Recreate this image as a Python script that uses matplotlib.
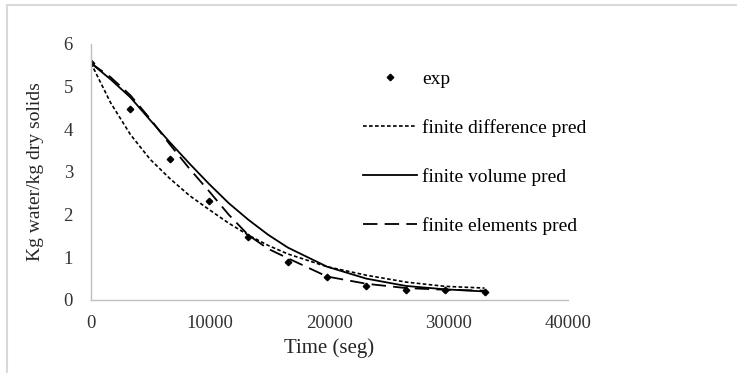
import numpy as np
import matplotlib
matplotlib.use("Agg")
import matplotlib.pyplot as plt
from matplotlib.patches import Rectangle

# data
t_exp = [0, 3300, 6600, 9900, 13200, 16500, 19800, 23100, 26400, 29700, 33000]
x_exp = [5.55, 4.47, 3.30, 2.32, 1.47, 0.89, 0.54, 0.33, 0.24, 0.23, 0.19]

t_pred = [0, 1650, 3300, 4950, 6600, 8250, 9900, 11550, 13200, 14850, 16500,
          19800, 23100, 26400, 29700, 33000]
x_fd = [5.55, 4.62, 3.88, 3.30, 2.85, 2.45, 2.12, 1.80, 1.52, 1.28, 1.08,
        0.78, 0.58, 0.42, 0.32, 0.28]
x_fv = [5.55, 5.17, 4.75, 4.22, 3.70, 3.20, 2.72, 2.27, 1.88, 1.53, 1.23,
        0.78, 0.50, 0.33, 0.25, 0.20]
x_fe = [5.55, 5.22, 4.80, 4.25, 3.65, 3.08, 2.55, 2.00, 1.52, 1.20, 0.98,
        0.55, 0.38, 0.28, 0.24, 0.22]

x_ticks = [0, 10000, 20000, 30000, 40000]
y_ticks = [0, 1, 2, 3, 4, 5, 6]

plt.rcParams["font.family"] = ["Liberation Serif", "DejaVu Serif"]

fig = plt.figure(figsize=(7.37, 3.73), dpi=100)
ax = fig.add_axes([91 / 737, 73 / 373, 477 / 737, 256 / 373])

# light gray frame around the chart area
fig.patches.append(Rectangle((7 / 737, -0.1), 1.0, (368 / 373) + 0.1,
                             transform=fig.transFigure, fill=False,
                             edgecolor="#d9d9d9", linewidth=1.5))

ax.plot(t_exp, x_exp, linestyle="none", marker="D", markersize=3.3,
        color="black", label="exp")
ax.plot(t_pred, x_fd, color="black", linewidth=1.2, dashes=(2.2, 1.4),
        label="finite difference pred")
ax.plot(t_pred, x_fv, color="black", linewidth=1.3, label="finite volume pred")
ax.plot(t_pred, x_fe, color="black", linewidth=1.3, dashes=(8, 4),
        label="finite elements pred")

ax.set_xlim(0, 40000)
ax.set_ylim(0, 6)
ax.set_xticks(x_ticks)
ax.set_yticks(y_ticks)
ax.tick_params(axis="x", length=0, labelsize=13.5, colors="#333333", pad=11)
ax.tick_params(axis="y", length=0, labelsize=13.5, colors="#333333", pad=13)
for s in ["top", "right"]:
    ax.spines[s].set_visible(False)
for s in ["left", "bottom"]:
    ax.spines[s].set_color("#bfbfbf")
    ax.spines[s].set_linewidth(1.0)

ax.set_xlabel("Time (seg)", fontsize=15, color="#262626", labelpad=4)
ax.set_ylabel("Kg water/kg dry solids", fontsize=14, color="#262626", labelpad=14)

fig.legend(loc="upper left", bbox_to_anchor=(363 / 737, 1 - 70 / 373),
           frameon=False, fontsize=14, handlelength=2.78, handletextpad=0.26,
           labelspacing=1.6, borderpad=0, borderaxespad=0)

fig.savefig("out.png", dpi=100)
